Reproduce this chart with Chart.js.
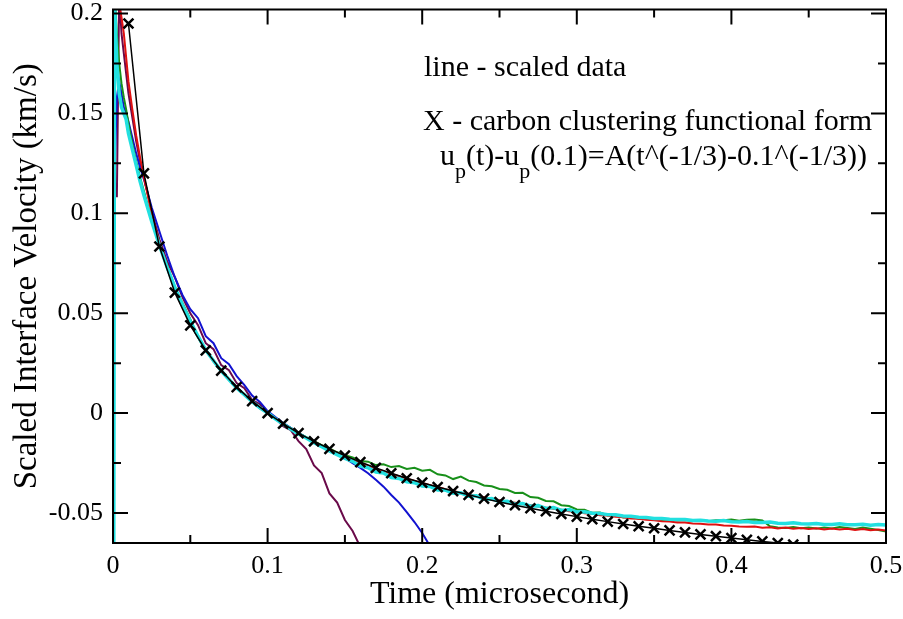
<!DOCTYPE html>
<html>
<head>
<meta charset="utf-8">
<script src="https://cdn.jsdelivr.net/npm/chart.js@4.4.1/dist/chart.umd.min.js"></script>
<style>
    html, body { margin: 0; padding: 0; background: #fff; }
</style>
</head>
<body>
<canvas id="velGraph" width="903" height="619"></canvas>
<script>
//data section

//time grid of the scaled runs (microsecond)
const timeUs = [0.0005, 0.001, 0.0025, 0.004, 0.0055, 0.007, 0.0085, 0.01, 0.0125, 0.015, 0.0175, 0.02, 0.025, 0.03, 0.035, 0.04, 0.045, 0.05,
    0.055, 0.06, 0.065, 0.07, 0.075, 0.08, 0.085, 0.09, 0.095, 0.1,
    0.105, 0.11, 0.115, 0.12, 0.125, 0.13, 0.135, 0.14, 0.145, 0.15,
    0.155, 0.16, 0.165, 0.17, 0.175, 0.18, 0.185, 0.19, 0.195, 0.2,
    0.205, 0.21, 0.215, 0.22, 0.225, 0.23, 0.235, 0.24, 0.245, 0.25,
    0.255, 0.26, 0.265, 0.27, 0.275, 0.28, 0.285, 0.29, 0.295, 0.3,
    0.305, 0.31, 0.315, 0.32, 0.325, 0.33, 0.335, 0.34, 0.345, 0.35,
    0.355, 0.36, 0.365, 0.37, 0.375, 0.38, 0.385, 0.39, 0.395, 0.4,
    0.405, 0.41, 0.415, 0.42, 0.425, 0.43, 0.435, 0.44, 0.445, 0.45,
    0.455, 0.46, 0.465, 0.47, 0.475, 0.48, 0.485, 0.49, 0.495, 0.5];

//scaled interface velocity (km/s), one list per run
const cyanVel = [-0.07, 0.205, 0.175, 0.16, 0.153, 0.15, 0.147, 0.14, 0.132, 0.124, 0.116, 0.109, 0.096, 0.084, 0.073, 0.063, 0.054, 0.046,
    0.0385, 0.0315, 0.0262, 0.0212, 0.0168, 0.0126, 0.0092, 0.0057, 0.0026, 0.0001,
    -0.0029, -0.0054, -0.0079, -0.0104, -0.0124, -0.0148, -0.0168, -0.0189, -0.0208, -0.0226,
    -0.0241, -0.0265, -0.0273, -0.0295, -0.0300, -0.0322, -0.0327, -0.0344, -0.0348, -0.0365,
    -0.0367, -0.0385, -0.0385, -0.0401, -0.0399, -0.0416, -0.0414, -0.0431, -0.0428, -0.0443,
    -0.0441, -0.0456, -0.0452, -0.0466, -0.0463, -0.0477, -0.0473, -0.0487, -0.0483, -0.0495,
    -0.0494, -0.0501, -0.0502, -0.0508, -0.0509, -0.0515, -0.0516, -0.0521, -0.0522, -0.0527,
    -0.0527, -0.0531, -0.0533, -0.0532, -0.0537, -0.0536, -0.0540, -0.0541, -0.0538, -0.0544,
    -0.0545, -0.0542, -0.0548, -0.0548, -0.0545, -0.0551, -0.0552, -0.0549, -0.0554, -0.0555,
    -0.0552, -0.0557, -0.0557, -0.0554, -0.0559, -0.0559, -0.0556, -0.0561, -0.0557, -0.0560];

const redVel = [null, null, 0.215, 0.205, 0.198, 0.19, 0.178, 0.166, 0.152, 0.139, 0.128, 0.118, 0.1, 0.085, 0.073, 0.062, 0.053, 0.045,
    0.0378, 0.0318, 0.0258, 0.0215, 0.0165, 0.0131, 0.0090, 0.0060, 0.0024, 0.0002,
    -0.0028, -0.0050, -0.0080, -0.0098, -0.0125, -0.0142, -0.0165, -0.0180, -0.0201, -0.0216,
    -0.0236, -0.0250, -0.0264, -0.0279, -0.0291, -0.0304, -0.0316, -0.0327, -0.0339, -0.0350,
    -0.0361, -0.0370, -0.0381, -0.0389, -0.0399, -0.0404, -0.0416, -0.0421, -0.0431, -0.0435,
    -0.0443, -0.0449, -0.0456, -0.0461, -0.0468, -0.0473, -0.0479, -0.0484, -0.0491, -0.0494,
    -0.0501, -0.0504, -0.0511, -0.0513, -0.0519, -0.0521, -0.0527, -0.0529, -0.0534, -0.0536,
    -0.0541, -0.0542, -0.0547, -0.0548, -0.0552, -0.0554, -0.0557, -0.0558, -0.0562, -0.0564,
    -0.0567, -0.0569, -0.0568, -0.0574, -0.0571, -0.0577, -0.0573, -0.0579, -0.0575, -0.0580,
    -0.0576, -0.0582, -0.0578, -0.0583, -0.0579, -0.0585, -0.0580, -0.0586, -0.0582, -0.0588];

const greenVel = [null, 0.21, 0.19, 0.175, 0.165, 0.158, 0.152, 0.145, 0.135, 0.126, 0.118, 0.111, 0.097, 0.085, 0.074, 0.063, 0.055, 0.047,
    0.0380, 0.0310, 0.0265, 0.0210, 0.0172, 0.0128, 0.0095, 0.0058, 0.0030, 0.0000,
    -0.0026, -0.0052, -0.0075, -0.0100, -0.0120, -0.0140, -0.0160, -0.0176, -0.0196, -0.0210,
    -0.0222, -0.0240, -0.0243, -0.0260, -0.0256, -0.0270, -0.0265, -0.0279, -0.0274, -0.0288,
    -0.0284, -0.0306, -0.0312, -0.0330, -0.0318, -0.0338, -0.0345, -0.0362, -0.0366, -0.0380,
    -0.0384, -0.0400, -0.0399, -0.0420, -0.0424, -0.0440, -0.0441, -0.0461, -0.0465, -0.0482,
    -0.0484, -0.0499, -0.0498, -0.0512, -0.0508, -0.0522, -0.0518, -0.0529, -0.0526, -0.0535,
    -0.0535, -0.0533, -0.0537, -0.0535, -0.0540, -0.0537, -0.0541, -0.0536, -0.0536, -0.0533,
    -0.0538, -0.0534, -0.0532, -0.0537, -0.0566, -0.0572, -0.0575, -0.0570, -0.0576, -0.0573,
    -0.0578, -0.0572, -0.0577, -0.0570, -0.0575, -0.0580, -0.0573, -0.0579, -0.0585, -0.0592];

const blueVel = [null, 0.12, 0.158, 0.166, 0.16, 0.153, 0.15, 0.146, 0.138, 0.13, 0.123, 0.117, 0.103, 0.091, 0.079, 0.068, 0.059, 0.052,
    0.0475, 0.0385, 0.0350, 0.0275, 0.0245, 0.0185, 0.0140, 0.0088, 0.0056, 0.0010,
    -0.0020, -0.0048, -0.0074, -0.0098, -0.0123, -0.0144, -0.0165, -0.0186, -0.0207, -0.0224,
    -0.0250, -0.0274, -0.0301, -0.0334, -0.0368, -0.0410, -0.0448, -0.0495, -0.0545, -0.0600,
    -0.0665];

const purpleVel = [null, null, 0.108, 0.21, 0.19, 0.18, 0.17, 0.16, 0.148, 0.136, 0.126, 0.118, 0.101, 0.087, 0.076, 0.068, 0.058, 0.05,
    0.0440, 0.0350, 0.0320, 0.0240, 0.0215, 0.0150, 0.0125, 0.0065, 0.0045, 0.0000,
    -0.0025, -0.0065, -0.0085, -0.0140, -0.0180, -0.0262, -0.0300, -0.0402, -0.0448, -0.0535,
    -0.0590, -0.0670];

//carbon clustering functional form (X marks)
const ccTime = [0.01, 0.02, 0.03, 0.04, 0.05, 0.06, 0.07, 0.08, 0.09, 0.1,
    0.11, 0.12, 0.13, 0.14, 0.15, 0.16, 0.17, 0.18, 0.19, 0.2,
    0.21, 0.22, 0.23, 0.24, 0.25, 0.26, 0.27, 0.28, 0.29, 0.3,
    0.31, 0.32, 0.33, 0.34, 0.35, 0.36, 0.37, 0.38, 0.39, 0.4,
    0.41, 0.42, 0.43, 0.44];
const ccVel = [0.195, 0.120, 0.0834, 0.0603, 0.0439, 0.0314, 0.0213, 0.0130, 0.0060, 0.0,
    -0.0053, -0.0100, -0.0141, -0.0179, -0.0213, -0.0245, -0.0274, -0.0301, -0.0326, -0.0348,
    -0.0370, -0.0390, -0.0409, -0.0428, -0.0445, -0.0461, -0.0476, -0.0491, -0.0505, -0.0518,
    -0.0531, -0.0543, -0.0555, -0.0566, -0.0576, -0.0587, -0.0597, -0.0607, -0.0616, -0.0625,
    -0.0634, -0.0642, -0.0650, -0.0658];

//tick values
const xMajorTicks = [0, 0.1, 0.2, 0.3, 0.4, 0.5];
const xMinorTicks = [0.05, 0.15, 0.25, 0.35, 0.45];
const yMajorTicks = [-0.05, 0, 0.05, 0.1, 0.15, 0.2];
const yMinorTicks = [-0.025, 0.025, 0.075, 0.125, 0.175];

//graph section
const serif = '"Liberation Serif", "Times New Roman", serif';

const toPoints = (times, vals) => vals.map((v, i) => ({ x: times[i], y: v }));
const fmt = v => String(+(+v).toFixed(3));

const runLine = (vals, color, w) => ({
    data: toPoints(timeUs, vals),
    borderColor: color,
    borderWidth: w,
    pointRadius: 0,
    tension: 0,
    spanGaps: false
});

//inward ticks, frame and the text notes
const framePlugin = {
    id: 'framePlugin',
    afterDatasetsDraw(chart) {
        const { ctx, chartArea: a, scales } = chart;
        const xs = scales.x, ys = scales.y;
        ctx.save();
        ctx.strokeStyle = '#000';
        ctx.lineWidth = 2;
        ctx.beginPath();
        const tick = (list, len) => {
            list.forEach(v => {
                const px = xs.getPixelForValue(v);
                ctx.moveTo(px, a.bottom); ctx.lineTo(px, a.bottom - len);
                ctx.moveTo(px, a.top); ctx.lineTo(px, a.top + len);
            });
        };
        const ytick = (list, len) => {
            list.forEach(v => {
                const py = ys.getPixelForValue(v);
                ctx.moveTo(a.left, py); ctx.lineTo(a.left + len, py);
                ctx.moveTo(a.right, py); ctx.lineTo(a.right - len, py);
            });
        };
        tick(xMajorTicks, 15);
        tick(xMinorTicks, 8);
        ytick(yMajorTicks, 15);
        ytick(yMinorTicks, 8);
        ctx.stroke();
        ctx.strokeRect(a.left, a.top, a.right - a.left, a.bottom - a.top);

        //notes
        ctx.fillStyle = '#000';
        ctx.textBaseline = 'alphabetic';
        ctx.textAlign = 'left';
        ctx.font = '30px ' + serif;
        ctx.fillText('line - scaled data', 424, 76);
        ctx.fillText('X - carbon clustering functional form', 423, 130);
        let x = 440;
        const parts = [['u', 0], ['p', 1], ['(t)-u', 0], ['p', 1], ['(0.1)=A(t^(-1/3)-0.1^(-1/3))', 0]];
        parts.forEach(([s, sub]) => {
            ctx.font = (sub ? '22px ' : '30px ') + serif;
            ctx.fillText(s, x, sub ? 178 : 165);
            x += ctx.measureText(s).width;
        });
        ctx.restore();
    }
};

const velGraphMaster = () => {
    var ctx = document.getElementById('velGraph').getContext('2d');
    var chart = new Chart(ctx, {
        type: 'line',
        data: {
            datasets: [
                {
                    data: toPoints(ccTime, ccVel),
                    borderColor: '#000',
                    borderWidth: 1.5,
                    pointStyle: 'crossRot',
                    pointRadius: 7,
                    pointBorderWidth: 2.5,
                    pointBorderColor: '#000',
                    tension: 0
                },
                runLine(cyanVel, '#22e0e0', 3.5),
                runLine(redVel, '#e01010', 2),
                runLine(greenVel, '#18901a', 2),
                runLine(blueVel, '#1212d0', 2),
                runLine(purpleVel, '#6a0a4a', 2)
            ]
        },
        options: {
            responsive: false,
            animation: false,
            layout: { padding: { left: 0, right: 17, top: 5, bottom: 0 } },
            plugins: { legend: { display: false }, tooltip: { enabled: false } },
            scales: {
                x: {
                    type: 'linear', min: 0, max: 0.5,
                    grid: { display: false, drawTicks: false },
                    border: { display: false },
                    ticks: { stepSize: 0.1, padding: 8, color: '#000', maxRotation: 0,
                        font: { family: serif, size: 26 }, callback: fmt },
                    title: { display: true, text: 'Time (microsecond)', color: '#000',
                        font: { family: serif, size: 32 }, padding: { top: 0, bottom: 5 } },
                    afterFit: s => { s.height = 76; s.paddingLeft = 0; s.paddingRight = 0; }
                },
                y: {
                    type: 'linear', min: -0.065, max: 0.202,
                    grid: { display: false, drawTicks: false },
                    border: { display: false },
                    ticks: { stepSize: 0.05, includeBounds: false, padding: 10, color: '#000',
                        font: { family: serif, size: 26 }, callback: fmt },
                    title: { display: true, text: 'Scaled Interface Velocity (km/s)', color: '#000',
                        font: { family: serif, size: 33 }, padding: { top: 8, bottom: 0 } },
                    afterFit: s => { s.width = 113; s.paddingTop = 0; s.paddingBottom = 0; }
                }
            }
        },
        plugins: [framePlugin]
    });
};

velGraphMaster()
</script>
</body>
</html>
